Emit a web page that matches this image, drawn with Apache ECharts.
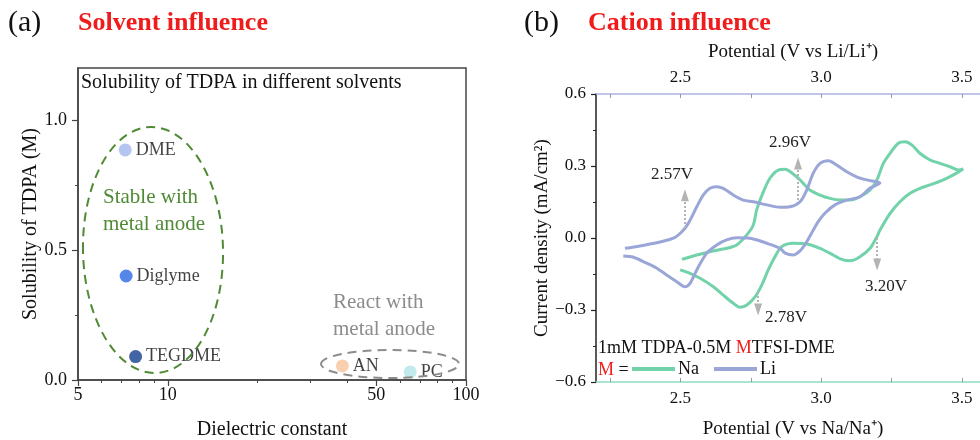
<!DOCTYPE html>
<html><head><meta charset="utf-8">
<script src="https://cdn.jsdelivr.net/npm/echarts@6/dist/echarts.min.js"></script>
<style>html,body{margin:0;padding:0;background:#fff}#c{width:980px;height:440px}</style>
</head><body><div id="c"></div>
<script>
// ---------- Panel (a) data ----------
const solvents = ['DME', 'Diglyme', 'TEGDME', 'AN', 'PC'];
const dielectric = [7.2, 7.25, 7.8, 38.5, 65];
const solubility = [0.885, 0.40, 0.09, 0.054, 0.031];
const dielectricLabels = [5, 10, 50, 100];
const dielectricMinor = [6, 7, 8, 9, 20, 30, 40, 60, 70, 80, 90];
const solubilityLabels = [0, 0.5, 1.0];
const solubilityMinor = [0.25, 0.75];

// ---------- Panel (b) data ----------
const naPotential = [2.505,2.558,2.605,2.664,2.700,2.736,2.759,2.771,2.795,2.818,2.848,2.872,2.895,2.925,2.960,2.996,3.032,3.067,3.103,3.138,3.174,3.198,3.221,3.245,3.274,3.298,3.322,3.351,3.387,3.422,3.458,3.488,3.505,3.470,3.434,3.387,3.351,3.316,3.280,3.245,3.209,3.198,3.174,3.138,3.103,3.073,3.032,2.996,2.949,2.901,2.860,2.836,2.812,2.789,2.765,2.736,2.712,2.688,2.652,2.617,2.570,2.534,2.499];
const naCurrent = [-0.089,-0.071,-0.057,-0.043,-0.029,0.013,0.054,0.117,0.193,0.249,0.283,0.286,0.272,0.242,0.200,0.179,0.165,0.158,0.158,0.172,0.200,0.242,0.311,0.353,0.395,0.401,0.388,0.353,0.325,0.311,0.297,0.283,0.288,0.263,0.242,0.221,0.207,0.186,0.151,0.103,0.033,0.005,-0.043,-0.078,-0.095,-0.089,-0.064,-0.043,-0.025,-0.022,-0.036,-0.078,-0.133,-0.196,-0.245,-0.279,-0.289,-0.272,-0.238,-0.203,-0.168,-0.147,-0.133];
const liPotential = [2.303,2.356,2.416,2.475,2.505,2.528,2.558,2.581,2.605,2.629,2.652,2.688,2.723,2.759,2.807,2.854,2.889,2.925,2.949,2.972,2.996,3.026,3.055,3.091,3.126,3.162,3.209,3.174,3.138,3.091,3.049,3.014,2.989,2.972,2.946,2.925,2.901,2.872,2.854,2.807,2.747,2.700,2.664,2.629,2.593,2.558,2.534,2.516,2.487,2.451,2.416,2.380,2.333,2.297];
const liCurrent = [-0.043,-0.033,-0.020,-0.001,0.026,0.061,0.130,0.179,0.207,0.214,0.207,0.179,0.158,0.151,0.138,0.128,0.130,0.151,0.200,0.270,0.311,0.322,0.304,0.276,0.255,0.242,0.229,0.208,0.172,0.158,0.138,0.104,0.067,0.033,-0.021,-0.054,-0.071,-0.063,-0.043,-0.022,-0.001,0.001,-0.008,-0.029,-0.064,-0.133,-0.189,-0.203,-0.182,-0.154,-0.126,-0.105,-0.080,-0.075];
const potentialLabels = [2.5, 3.0, 3.5];
const potentialTicks = [2.25, 2.5, 2.75, 3.0, 3.25, 3.5];
// peak annotations: [potential, current start, current end, label]
const peakPotential = [2.516, 2.918, 3.199, 2.776];
const peakFrom = [0.042, 0.158, 0.0, -0.225];
const peakTo = [0.178, 0.31, -0.11, -0.298];
const peakLabels = ['2.57V', '2.96V', '3.20V', '2.78V'];

// ---------- styles ----------
const FONT = "'Liberation Serif', 'Times New Roman', serif";
const solventPalette = ['#a2b6ee', '#2a69e2', '#143e8e', '#f8c49b', '#b3e3e6'];
const NA_COLOR = '#72d2aa';
const LI_COLOR = '#9ba6d8';
const peakLabelPos = [[672, 175], [790, 143], [886, 287], [786, 318]];

const chart = echarts.init(document.getElementById('c'), null, {renderer: 'canvas'});

const fmt1 = v => (v < 0 ? '\u2212' + Math.abs(v).toFixed(1) : Number(v).toFixed(1));

const scatterData = solvents.map((s, i) => ({
  name: s,
  value: [dielectric[i], solubility[i]],
  itemStyle: {color: solventPalette[i]}
}));

const naData = naPotential.map((v, i) => [v, naCurrent[i]]);
const liData = liPotential.map((v, i) => [v, liCurrent[i]]);

const arrowLines = peakPotential.map((p, i) => [
  {coord: [p, peakFrom[i]]},
  {coord: [p, peakTo[i]]}
]);

const graphics = [
  {type: 'text', left: 8, top: 8, style: {text: '(a)', font: '30px ' + FONT, fill: '#111'}},
  {type: 'text', left: 78, top: 10, style: {text: 'Solvent influence', font: 'bold 26px ' + FONT, fill: '#f01c1c'}},
  {type: 'text', left: 524, top: 8, style: {text: '(b)', font: '30px ' + FONT, fill: '#111'}},
  {type: 'text', left: 588, top: 10, style: {text: 'Cation influence', font: 'bold 26px ' + FONT, fill: '#f01c1c'}},
  {type: 'text', x: 81, y: 83, style: {text: 'Solubility of TDPA in different solvents', font: '20px ' + FONT, fill: '#111', verticalAlign: 'middle'}},
  {type: 'ellipse', shape: {cx: 153, cy: 250, rx: 70, ry: 123}, rotation: 0.02, originX: 153, originY: 250,
    style: {fill: 'none', stroke: '#4f8a34', lineWidth: 2, lineDash: [9, 6]}, z: 5},
  {type: 'text', x: 103, y: 197, style: {text: 'Stable with', font: '21px ' + FONT, fill: '#4f8a34', verticalAlign: 'middle'}},
  {type: 'text', x: 103, y: 224, style: {text: 'metal anode', font: '21px ' + FONT, fill: '#4f8a34', verticalAlign: 'middle'}},
  {type: 'ellipse', shape: {cx: 390, cy: 364, rx: 69, ry: 14},
    style: {fill: 'none', stroke: '#8c8c8c', lineWidth: 2, lineDash: [9, 6]}, z: 5},
  {type: 'text', x: 333, y: 302, style: {text: 'React with', font: '21px ' + FONT, fill: '#8c8c8c', verticalAlign: 'middle'}},
  {type: 'text', x: 333, y: 329, style: {text: 'metal anode', font: '21px ' + FONT, fill: '#8c8c8c', verticalAlign: 'middle'}},
  {type: 'text', x: 598, y: 348, style: {
    text: '{a|1mM TDPA-0.5M }{r|M}{a|TFSI-DME}',
    verticalAlign: 'middle',
    rich: {a: {font: '18px ' + FONT, fill: '#111'}, r: {font: '18px ' + FONT, fill: '#f01c1c'}}
  }},
  {type: 'text', x: 598, y: 370, style: {
    text: '{r|M}{a| =}',
    verticalAlign: 'middle',
    rich: {a: {font: '18px ' + FONT, fill: '#111'}, r: {font: '18px ' + FONT, fill: '#f01c1c'}}
  }}
];
peakLabels.forEach((t, i) => {
  graphics.push({type: 'text', x: peakLabelPos[i][0], y: peakLabelPos[i][1],
    style: {text: t, font: '17px ' + FONT, fill: '#222', align: 'center', verticalAlign: 'middle'}});
});

const option = {
  animation: false,
  backgroundColor: '#fff',
  textStyle: {fontFamily: FONT},
  grid: [
    {left: 78, top: 68, width: 388, height: 312, show: true, borderColor: '#444', borderWidth: 1.5, backgroundColor: 'transparent', outerBoundsMode: 'none', containLabel: false},
    {left: 596, top: 94, width: 394, height: 288, show: false, outerBoundsMode: 'none', containLabel: false}
  ],
  xAxis: [
    {
      type: 'log', logBase: 10, gridIndex: 0, min: 5, max: 100, position: 'bottom',
      name: 'Dielectric constant', nameLocation: 'middle', nameGap: 40,
      nameTextStyle: {fontFamily: FONT, fontSize: 20, color: '#111'},
      axisLine: {show: true, lineStyle: {color: '#444', width: 1.5}},
      axisTick: {show: true, inside: false, length: 6, customValues: dielectricLabels, lineStyle: {color: '#444', width: 1.2}},
      axisLabel: {customValues: dielectricLabels, margin: 6, fontFamily: FONT, fontSize: 18, color: '#111', formatter: v => String(Math.round(v))},
      splitLine: {show: false}, minorTick: {show: false}, minorSplitLine: {show: false}
    },
    {
      type: 'log', logBase: 10, gridIndex: 0, min: 5, max: 100, position: 'bottom',
      axisLine: {show: false},
      axisTick: {show: true, inside: false, length: 3, customValues: dielectricMinor, lineStyle: {color: '#444', width: 1}},
      axisLabel: {show: false}, splitLine: {show: false}
    },
    {
      type: 'value', gridIndex: 1, min: 2.2, max: 3.6, position: 'bottom',
      name: 'Potential (V vs Na/Na\u207A)', nameLocation: 'middle', nameGap: 38,
      nameTextStyle: {fontFamily: FONT, fontSize: 19, color: '#111'},
      axisLine: {show: true, onZero: false, lineStyle: {color: '#8fdcc2', width: 1.5}},
      axisTick: {show: true, inside: true, length: 4, customValues: potentialTicks, lineStyle: {color: '#999', width: 1}},
      axisLabel: {customValues: potentialLabels, margin: 8, fontFamily: FONT, fontSize: 17, color: '#111', formatter: fmt1},
      splitLine: {show: false}
    },
    {
      type: 'value', gridIndex: 1, min: 2.2, max: 3.6, position: 'top',
      name: 'Potential (V vs Li/Li\u207A)', nameLocation: 'middle', nameGap: 32,
      nameTextStyle: {fontFamily: FONT, fontSize: 19, color: '#111'},
      axisLine: {show: true, onZero: false, lineStyle: {color: '#aab2e2', width: 1.5}},
      axisTick: {show: true, inside: true, length: 4, customValues: potentialTicks, lineStyle: {color: '#999', width: 1}},
      axisLabel: {customValues: potentialLabels, margin: 8, fontFamily: FONT, fontSize: 17, color: '#111', formatter: fmt1},
      splitLine: {show: false}
    }
  ],
  yAxis: [
    {
      type: 'value', gridIndex: 0, min: 0, max: 1.2,
      name: 'Solubility of TDPA (M)', nameLocation: 'middle', nameGap: 34,
      nameTextStyle: {fontFamily: FONT, fontSize: 20, color: '#111'},
      axisLine: {show: true, lineStyle: {color: '#444', width: 1.5}},
      axisTick: {show: true, inside: false, length: 6, customValues: solubilityLabels, lineStyle: {color: '#444', width: 1.2}},
      axisLabel: {customValues: solubilityLabels, margin: 11, fontFamily: FONT, fontSize: 18, color: '#111', formatter: fmt1},
      splitLine: {show: false}
    },
    {
      type: 'value', gridIndex: 0, min: 0, max: 1.2, position: 'left',
      axisLine: {show: false},
      axisTick: {show: true, inside: false, length: 3, customValues: solubilityMinor, lineStyle: {color: '#444', width: 1}},
      axisLabel: {show: false}, splitLine: {show: false}
    },
    {
      type: 'value', gridIndex: 1, min: -0.6, max: 0.6, interval: 0.3,
      name: 'Current density (mA/cm\u00B2)', nameLocation: 'middle', nameGap: 44,
      nameTextStyle: {fontFamily: FONT, fontSize: 19, color: '#111'},
      axisLine: {show: true, onZero: false, lineStyle: {color: '#222', width: 1.5}},
      axisTick: {show: true, inside: false, length: 5, lineStyle: {color: '#222', width: 1.2}},
      minorTick: {show: true, splitNumber: 2, length: 3, lineStyle: {color: '#222', width: 1}},
      axisLabel: {margin: 10, fontFamily: FONT, fontSize: 17, color: '#111', formatter: fmt1},
      splitLine: {show: false}
    }
  ],
  legend: {
    data: ['Na', 'Li'],
    left: 632, top: 360, padding: 0,
    orient: 'horizontal',
    icon: 'rect', itemWidth: 43, itemHeight: 4, itemGap: 15,
    textStyle: {fontFamily: FONT, fontSize: 18, color: '#111', padding: [0, 0, 0, -2]},
    selectedMode: false
  },
  series: [
    {
      type: 'scatter', xAxisIndex: 0, yAxisIndex: 0,
      symbol: 'circle', symbolSize: 13,
      data: scatterData,
      label: {show: true, position: 'right', distance: 4, formatter: '{b}', fontFamily: FONT, fontSize: 18, color: '#111'},
      emphasis: {disabled: true}, z: 3
    },
    {
      name: 'Na', type: 'line', xAxisIndex: 2, yAxisIndex: 2,
      data: naData, showSymbol: false, symbol: 'none', smooth: 0.3,
      lineStyle: {color: NA_COLOR, width: 3}, itemStyle: {color: NA_COLOR},
      emphasis: {disabled: true}
    },
    {
      name: 'Li', type: 'line', xAxisIndex: 2, yAxisIndex: 2,
      data: liData, showSymbol: false, symbol: 'none', smooth: 0.3,
      lineStyle: {color: LI_COLOR, width: 3}, itemStyle: {color: LI_COLOR},
      emphasis: {disabled: true},
      markLine: {
        silent: true, symbol: ['none', 'triangle'], symbolSize: [8, 12],
        lineStyle: {color: '#b3b3b3', width: 2, type: [2, 2]},
        itemStyle: {color: '#b3b3b3'},
        label: {show: false},
        data: arrowLines
      }
    }
  ],
  graphic: graphics
};
chart.setOption(option);
</script></body></html>
